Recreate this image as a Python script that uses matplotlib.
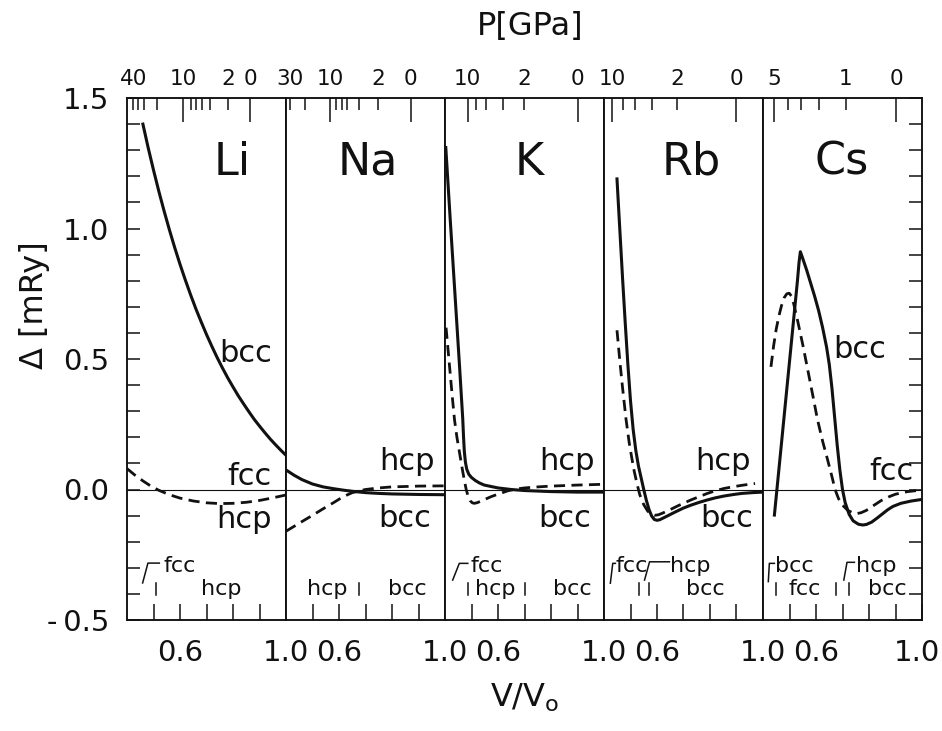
import numpy as np
import matplotlib
matplotlib.use("Agg")
import matplotlib.pyplot as plt
from matplotlib.ticker import MultipleLocator

plt.rcParams['font.family'] = ['DejaVu Sans']
plt.rcParams['mathtext.fontset'] = 'dejavusans'

elements = ["Li", "Na", "K", "Rb", "Cs"]

# ---- structural energy differences (mRy) vs V/V0, fcc taken as zero ----
li_solid_v = [0.46, 0.48, 0.50, 0.52, 0.54, 0.56, 0.58, 0.60, 0.62, 0.64, 0.66, 0.68, 0.70, 0.72, 0.74,
              0.76, 0.78, 0.80, 0.82, 0.84, 0.86, 0.88, 0.90, 0.92, 0.94, 0.96, 0.98, 1.0]
li_solid_d = [1.400, 1.309, 1.224, 1.143, 1.067, 0.995, 0.927, 0.863, 0.803, 0.746, 0.692, 0.642, 0.594,
              0.549, 0.506, 0.466, 0.428, 0.393, 0.359, 0.328, 0.298, 0.269, 0.243, 0.218, 0.194, 0.172,
              0.151, 0.131]
li_dash_v = [0.40, 0.43, 0.46, 0.49, 0.52, 0.56, 0.60, 0.65, 0.70, 0.75, 0.80, 0.85, 0.90, 0.95, 1.0]
li_dash_d = [0.08, 0.055, 0.033, 0.013, -0.003, -0.02, -0.033, -0.044, -0.051, -0.054, -0.053, -0.049,
             -0.042, -0.032, -0.021]

na_solid_v = [0.40, 0.43, 0.46, 0.50, 0.54, 0.58, 0.62, 0.66, 0.70, 0.75, 0.80, 0.90, 1.0]
na_solid_d = [0.075, 0.055, 0.038, 0.021, 0.010, 0.003, -0.003, -0.008, -0.012, -0.015, -0.017, -0.019, -0.020]
na_dash_v = [0.40, 0.46, 0.50, 0.54, 0.58, 0.615, 0.65, 0.70, 0.75, 0.80, 0.90, 1.0]
na_dash_d = [-0.16, -0.123, -0.099, -0.074, -0.05, -0.028, -0.012, 0.0, 0.006, 0.010, 0.013, 0.014]

k_solid_v = [0.403, 0.42, 0.44, 0.455, 0.467, 0.470, 0.473, 0.477, 0.482, 0.49, 0.50, 0.515, 0.53, 0.548,
             0.60, 0.65, 0.70, 0.80, 0.90, 1.0]
k_solid_d = [1.31, 1.03, 0.71, 0.47, 0.27, 0.20, 0.145, 0.105, 0.078, 0.058, 0.046, 0.034, 0.025, 0.017,
             0.006, 0.0, -0.004, -0.008, -0.01, -0.01]
k_dash_v = [0.404, 0.412, 0.42, 0.428, 0.436, 0.445, 0.455, 0.465, 0.473, 0.48, 0.487, 0.495, 0.503, 0.51,
            0.52, 0.535, 0.55, 0.575, 0.60, 0.637, 0.67, 0.70, 0.75, 0.80, 0.90, 1.0]
k_dash_d = [0.62, 0.53, 0.44, 0.35, 0.266, 0.20, 0.14, 0.08, 0.035, 0.0, -0.025, -0.043, -0.051, -0.053,
            -0.051, -0.045, -0.038, -0.027, -0.018, -0.005, 0.002, 0.006, 0.010, 0.013, 0.017, 0.02]

rb_solid_v = [0.449, 0.46, 0.47, 0.48, 0.49, 0.50, 0.51, 0.52, 0.53, 0.54, 0.55, 0.56, 0.57, 0.58, 0.59,
              0.60, 0.61, 0.62, 0.64, 0.665, 0.70, 0.728, 0.76, 0.79, 0.82, 0.853, 0.89, 0.92, 0.96, 1.0]
rb_solid_d = [1.19, 0.99, 0.81, 0.64, 0.48, 0.34, 0.23, 0.15, 0.09, 0.045, 0.0, -0.042, -0.077, -0.102,
              -0.115, -0.118, -0.116, -0.111, -0.101, -0.088, -0.071, -0.06, -0.049, -0.04, -0.032,
              -0.025, -0.019, -0.015, -0.012, -0.01]
rb_dash_v = [0.449, 0.46, 0.47, 0.483, 0.495, 0.505, 0.514, 0.525, 0.535, 0.55, 0.565, 0.58, 0.59, 0.605,
             0.62, 0.65, 0.68, 0.728, 0.76, 0.79, 0.82, 0.853, 0.89, 0.92, 0.97]
rb_dash_d = [0.61, 0.49, 0.39, 0.27, 0.18, 0.12, 0.07, 0.02, -0.02, -0.058, -0.083, -0.096, -0.099, -0.097,
             -0.091, -0.077, -0.062, -0.04, -0.027, -0.015, -0.005, 0.004, 0.011, 0.016, 0.023]

cs_solid_v = [0.443, 0.47, 0.50, 0.53, 0.536, 0.541, 0.55, 0.565, 0.58, 0.595, 0.61, 0.625, 0.64, 0.65,
              0.66, 0.67, 0.68, 0.69, 0.70, 0.71, 0.725, 0.74, 0.76, 0.776, 0.79, 0.81, 0.83, 0.85, 0.87,
              0.89, 0.92, 0.96, 1.0]
cs_solid_d = [-0.098, 0.18, 0.49, 0.80, 0.87, 0.911, 0.885, 0.84, 0.79, 0.74, 0.685, 0.62, 0.545, 0.48,
              0.39, 0.28, 0.17, 0.075, 0.0, -0.05, -0.095, -0.12, -0.133, -0.136, -0.134, -0.125, -0.11,
              -0.094, -0.078, -0.065, -0.053, -0.044, -0.038]
cs_dash_v = [0.43, 0.44, 0.45, 0.46, 0.47, 0.48, 0.49, 0.499, 0.508, 0.515, 0.523, 0.531, 0.55, 0.569,
             0.588, 0.606, 0.625, 0.644, 0.66, 0.672, 0.685, 0.70, 0.72, 0.74, 0.755, 0.77, 0.79, 0.815,
             0.845, 0.875, 0.90, 0.946, 1.0]
cs_dash_d = [0.47, 0.55, 0.615, 0.665, 0.705, 0.735, 0.75, 0.752, 0.74, 0.715, 0.68, 0.645, 0.555, 0.458,
             0.36, 0.266, 0.185, 0.113, 0.05, 0.0, -0.035, -0.06, -0.08, -0.09, -0.092, -0.089, -0.08,
             -0.063, -0.043, -0.028, -0.018, -0.008, -0.002]

solid = {"Li": (li_solid_v, li_solid_d), "Na": (na_solid_v, na_solid_d), "K": (k_solid_v, k_solid_d),
         "Rb": (rb_solid_v, rb_solid_d), "Cs": (cs_solid_v, cs_solid_d)}
dashed = {"Li": (li_dash_v, li_dash_d), "Na": (na_dash_v, na_dash_d), "K": (k_dash_v, k_dash_d),
          "Rb": (rb_dash_v, rb_dash_d), "Cs": (cs_dash_v, cs_dash_d)}

# ---- pressure scale (GPa) on top, tick positions in V/V0 ----
li_p_major_v, li_p_major_lab = [0.612, 0.864], ["10", "0"]
li_p_minor_v = [0.424, 0.443, 0.464, 0.514, 0.640, 0.660, 0.682, 0.713, 0.782]
li_p_minor_lab = ["40", "", "", "", "", "", "", "", "2"]
na_p_major_v, na_p_major_lab = [0.566, 0.871], ["10", "0"]
na_p_minor_v = [0.415, 0.472, 0.589, 0.610, 0.631, 0.677, 0.748]
na_p_minor_lab = ["30", "", "", "", "", "", "2"]
k_p_major_v, k_p_major_lab = [0.486, 0.901], ["10", "0"]
k_p_minor_v = [0.517, 0.555, 0.618, 0.699]
k_p_minor_lab = ["", "", "", "2"]
rb_p_major_v, rb_p_major_lab = [0.431, 0.899], ["10", "0"]
rb_p_minor_v = [0.472, 0.517, 0.580, 0.677]
rb_p_minor_lab = ["", "", "", "2"]
cs_p_major_v, cs_p_major_lab = [0.443, 0.902], ["5", "0"]
cs_p_minor_v = [0.493, 0.543, 0.612, 0.713]
cs_p_minor_lab = ["", "", "", "1"]

p_ticks = {"Li": (li_p_major_v, li_p_major_lab, li_p_minor_v, li_p_minor_lab),
           "Na": (na_p_major_v, na_p_major_lab, na_p_minor_v, na_p_minor_lab),
           "K": (k_p_major_v, k_p_major_lab, k_p_minor_v, k_p_minor_lab),
           "Rb": (rb_p_major_v, rb_p_major_lab, rb_p_minor_v, rb_p_minor_lab),
           "Cs": (cs_p_major_v, cs_p_major_lab, cs_p_minor_v, cs_p_minor_lab)}

x_ticks = [0.5, 0.6, 0.7, 0.8, 0.9, 1.0]
x_tick_labels = ["", "0.6", "", "", "", "1.0"]
y_ticks = [-0.5, 0.0, 0.5, 1.0, 1.5]
y_tick_labels = ["-\u20090.5", "0.0", "0.5", "1.0", "1.5"]

# curve labels: (v, delta, text)
curve_labels = {
    "Li": [(0.849, 0.49, "bcc"), (0.860, 0.017, "fcc"), (0.842, -0.149, "hcp")],
    "Na": [(0.858, 0.075, "hcp"), (0.849, -0.142, "bcc")],
    "K": [(0.862, 0.075, "hcp"), (0.853, -0.142, "bcc")],
    "Rb": [(0.849, 0.075, "hcp"), (0.864, -0.142, "bcc")],
    "Cs": [(0.766, 0.503, "bcc"), (0.883, 0.036, "fcc")],
}
name_pos = {"Li": 0.796, "Na": 0.709, "K": 0.717, "Rb": 0.728, "Cs": 0.698}

# stability-range notes at the bottom of each panel
UP, LO = -0.315, -0.404          # text baselines
BAR = (-0.358, -0.404)           # small vertical bars
notes_text = {
    "Li": [(0.537, UP, "fcc", "left"), (0.757, LO, "hcp", "center")],
    "Na": [(0.554, LO, "hcp", "center"), (0.858, LO, "bcc", "center")],
    "K": [(0.498, UP, "fcc", "left"), (0.588, LO, "hcp", "center"), (0.879, LO, "bcc", "center")],
    "Rb": [(0.444, UP, "fcc", "left"), (0.649, UP, "hcp", "left"), (0.781, LO, "bcc", "center")],
    "Cs": [(0.445, UP, "bcc", "left"), (0.556, LO, "fcc", "center"), (0.751, UP, "hcp", "left"),
           (0.869, LO, "bcc", "center")],
}
notes_bars = {"Li": [0.509], "Na": [0.677], "K": [0.486, 0.703], "Rb": [0.533, 0.568],
              "Cs": [0.449, 0.675, 0.723]}
notes_hooks = {
    "Li": [([0.459, 0.479, 0.522], [-0.358, -0.282, -0.282])],
    "Na": [],
    "K": [([0.429, 0.454, 0.486], [-0.347, -0.283, -0.283])],
    "Rb": [([0.424, 0.433, 0.443], [-0.359, -0.283, -0.283]),
           ([0.553, 0.572, 0.647], [-0.347, -0.277, -0.277])],
    "Cs": [([0.420, 0.424, 0.443], [-0.353, -0.283, -0.283]),
           ([0.705, 0.717, 0.745], [-0.347, -0.279, -0.279])],
}

W, H = 942, 731
fig = plt.figure(figsize=(W / 100, H / 100), dpi=100)
fig.patch.set_facecolor("white")

left0, pw, bottom, ph = 127, 159, 111, 522
ink = "#111111"
xlab_pad = 14

for i, el in enumerate(elements):
    last = i == len(elements) - 1
    ax = fig.add_axes([(left0 + i * pw) / W, bottom / H, pw / W, ph / H])
    ax.set_xlim(0.4, 1.0)
    ax.set_ylim(-0.5, 1.5)
    for sp in ax.spines.values():
        sp.set_linewidth(1.1)
        sp.set_color(ink)

    ax.axhline(0.0, color=ink, lw=0.8, zorder=1)
    sv, sd = solid[el]
    dv, dd = dashed[el]
    ax.plot(sv, sd, color=ink, lw=2.2, solid_joinstyle="round", zorder=3)
    ax.plot(dv, dd, color=ink, lw=2.0, linestyle=(0, (4, 2.3)), zorder=3)

    # bottom V/V0 axis (the outermost "1.0" is drawn separately so it stays inside the figure)
    labels = x_tick_labels[:-1] + [""] if last else x_tick_labels
    ax.set_xticks(x_ticks, labels)
    ax.tick_params(axis="x", direction="in", length=11.5, width=1.1, labelsize=21,
                   pad=xlab_pad, colors=ink)

    # Delta axis
    if i == 0:
        ax.set_yticks(y_ticks, y_tick_labels)
        ax.yaxis.set_minor_locator(MultipleLocator(0.1))
        ax.tick_params(axis="y", which="both", direction="in", length=9.5, width=1.1,
                       labelsize=21, pad=13, colors=ink)
    elif last:
        ax.yaxis.tick_right()
        ax.set_yticks(y_ticks)
        ax.yaxis.set_minor_locator(MultipleLocator(0.1))
        ax.tick_params(axis="y", which="both", direction="in", length=9.5, width=1.1,
                       labelright=False, colors=ink)
    else:
        ax.tick_params(axis="y", left=False, right=False, labelleft=False)

    # pressure scale
    axt = ax.twiny()
    axt.set_xlim(0.4, 1.0)
    mv, ml, nv, nl = p_ticks[el]
    axt.set_xticks(mv, ml)
    axt.set_xticks(nv, nl, minor=True)
    axt.tick_params(axis="x", which="major", direction="in", length=17.5, width=1.1,
                    labelsize=15.5, pad=6.5, colors=ink)
    axt.tick_params(axis="x", which="minor", direction="in", length=8.5, width=1.1,
                    labelsize=15.5, pad=6.5, colors=ink)
    for sp in axt.spines.values():
        sp.set_linewidth(1.1)
        sp.set_color(ink)

    # element name and curve labels
    ax.text(name_pos[el], 1.205, el, fontsize=32, ha="center", va="baseline", color=ink)
    for v, d, s in curve_labels[el]:
        ax.text(v, d, s, fontsize=22, ha="center", va="baseline", color=ink)

    # stability ranges
    for v, d, s, ha in notes_text[el]:
        ax.text(v, d, s, fontsize=16, ha=ha, va="baseline", color=ink)
    for v in notes_bars[el]:
        ax.plot([v, v], BAR, color=ink, lw=1.1)
    for hv, hd in notes_hooks[el]:
        ax.plot(hv, hd, color=ink, lw=1.1)

    if last:
        ax.annotate(x_tick_labels[-1], xy=(1.0, 0.0), xycoords="axes fraction",
                    xytext=(13, -xlab_pad), textcoords="offset points",
                    ha="right", va="top", fontsize=21, color=ink, annotation_clip=False)

fig.text(530 / W, 1 - 26 / H, "P[GPa]", fontsize=23, ha="center", va="center", color=ink)
fig.text(525 / W, 1 - 698 / H, r"V/V$_\mathrm{o}$", fontsize=23, ha="center", va="center", color=ink)
fig.text(35 / W, 1 - 305 / H, "\u0394 [mRy]", fontsize=23, ha="center", va="center",
         rotation=90, color=ink)

fig.savefig("out.png", dpi=100)
